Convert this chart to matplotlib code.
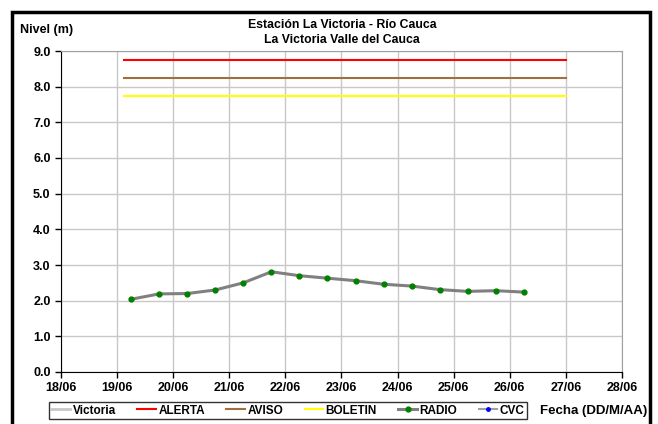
import matplotlib as mpl
mpl.use('Agg')
import matplotlib.pyplot as plt
from matplotlib.patches import Rectangle
import numpy as np

# days of June (fractional), readings every 12 h
radio_days = [19.25, 19.75, 20.25, 20.75, 21.25, 21.75, 22.25, 22.75,
              23.25, 23.75, 24.25, 24.75, 25.25, 25.75, 26.25]
radio_nivel = [2.04, 2.19, 2.20, 2.30, 2.50, 2.81, 2.70, 2.63,
               2.56, 2.46, 2.41, 2.31, 2.26, 2.28, 2.24]

umbral_days = [19.12, 27.0]
alerta = 8.75
aviso = 8.25
boletin = 7.75

xticks = list(range(18, 29))
xlabels = ['{:02d}/06'.format(d) for d in xticks]
yticks = np.arange(0, 10, 1.0)

plt.rcParams['font.family'] = ['Liberation Sans', 'DejaVu Sans']
plt.rcParams['font.weight'] = 'bold'

fig = plt.figure(figsize=(6.58, 4.24), dpi=100)
ax = fig.add_axes([61/658, 1-372/424, (622-61)/658, (372-51)/424])

lw = 2
ax.plot([], [], color='#c8c8c8', lw=lw, label='Victoria')
ax.plot(umbral_days, [alerta]*2, color='red', lw=1.5, label='ALERTA')
ax.plot(umbral_days, [aviso]*2, color='#a0703c', lw=1.5, label='AVISO')
ax.plot(umbral_days, [boletin]*2, color='yellow', lw=1.5, label='BOLETIN')
ax.plot(radio_days, radio_nivel, color='#808080', lw=2.2, marker='o', ms=3.5,
        mfc='green', mec='green', label='RADIO')
ax.plot([], [], color='#a0a0a0', lw=1.5, marker='o', ms=2.5, mfc='blue',
        mec='blue', label='CVC')

ax.set_xlim(18, 28)
ax.set_ylim(0, 9)
ax.set_xticks(xticks)
ax.set_xticklabels(xlabels)
ax.set_yticks(yticks)
ax.set_yticklabels(['{:.1f}'.format(v) for v in yticks])
ax.tick_params(labelsize=9, direction='out', length=4, width=1)
ax.grid(True, color='#c8c8c8', lw=1)
ax.set_axisbelow(True)
for s in ['top', 'right']:
    ax.spines[s].set_color('#a0a0a0')
for s in ['left', 'bottom']:
    ax.spines[s].set_color('black')

fig.text(342/658, 1-25/424, 'Estación La Victoria - Río Cauca', ha='center', va='center',
         fontsize=8.8, fontweight='bold')
fig.text(342/658, 1-40/424, 'La Victoria Valle del Cauca', ha='center', va='center',
         fontsize=8.8, fontweight='bold')
fig.text(20/658, 1-30/424, 'Nivel (m)', ha='left', va='center', fontsize=9, fontweight='bold')
fig.text(594/658, 1-411/424, 'Fecha (DD/M/AA)', ha='center', va='center', fontsize=9.5,
         fontweight='bold')

leg = fig.legend(loc='center', bbox_to_anchor=(288/658, 1-410.5/424), ncol=6,
                 fontsize=8.5, frameon=True, fancybox=False, edgecolor='black',
                 handlelength=1.6, handletextpad=0.2, columnspacing=1.8,
                 borderpad=0.2)
leg.get_frame().set_linewidth(1)

fig.patches.append(Rectangle((12/658, -0.05), (650-12)/658, (1-12/424)+0.05,
                             transform=fig.transFigure, fill=False,
                             edgecolor='black', lw=2.5))

plt.savefig('out.png', dpi=100)
